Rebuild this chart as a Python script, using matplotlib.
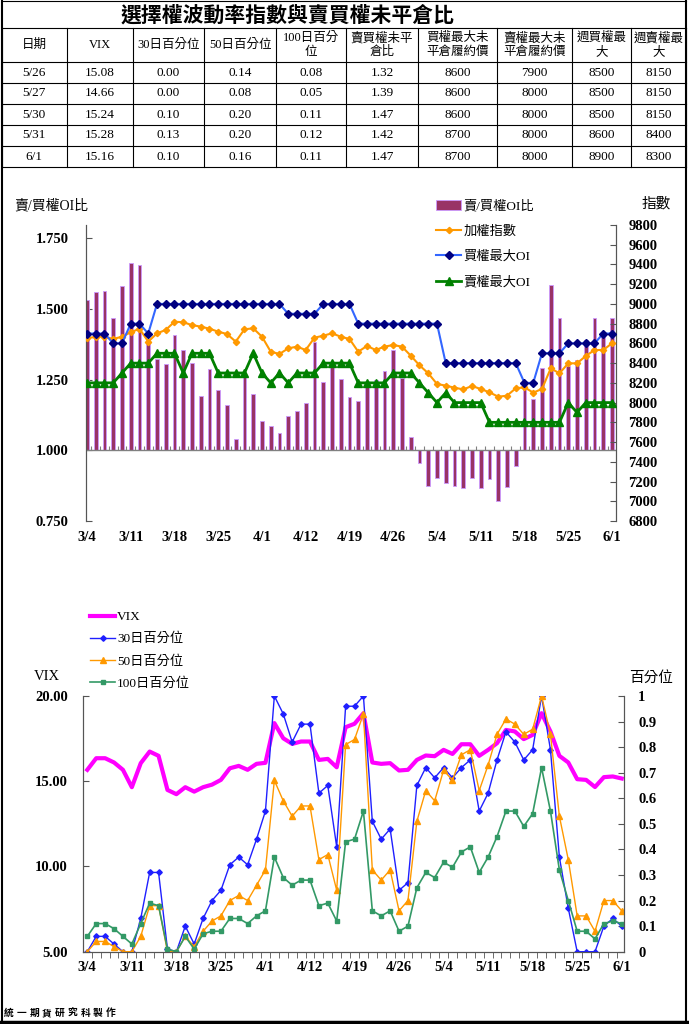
import numpy as np
import matplotlib.pyplot as plt
from matplotlib.ticker import FixedLocator, FuncFormatter

# ---- data ----
dates = ['3/4', '3/7', '3/8', '3/9', '3/10', '3/11', '3/14', '3/15', '3/16', '3/17',
         '3/18', '3/21', '3/22', '3/23', '3/24', '3/25', '3/28', '3/29', '3/30', '3/31',
         '4/1', '4/6', '4/7', '4/8', '4/11', '4/12', '4/13', '4/14', '4/15', '4/18',
         '4/19', '4/20', '4/21', '4/22', '4/25', '4/26', '4/27', '4/28', '4/29', '5/3',
         '5/4', '5/5', '5/6', '5/9', '5/10', '5/11', '5/12', '5/13', '5/16', '5/17',
         '5/18', '5/19', '5/20', '5/23', '5/24', '5/25', '5/26', '5/27', '5/30', '5/31', '6/1']

oi_ratio = [1.533, 1.560, 1.564, 1.467, 1.581, 1.663, 1.657, 1.380, 1.323, 1.307,
            1.409, 1.356, 1.311, 1.191, 1.289, 1.213, 1.160, 1.040, 1.268, 1.200,
            1.104, 1.085, 1.060, 1.123, 1.139, 1.169, 1.383, 1.243, 1.303, 1.252,
            1.188, 1.175, 1.236, 1.250, 1.282, 1.354, 1.256, 1.047, 0.957, 0.873,
            0.902, 0.885, 0.873, 0.867, 0.902, 0.867, 0.900, 0.821, 0.869, 0.945,
            1.240, 1.182, 1.291, 1.585, 1.467, 1.297, 1.32, 1.39, 1.47, 1.42, 1.47]

taiex = [8651, 8668, 8668, 8645, 8668, 8712, 8749, 8618, 8702, 8736,
         8820, 8814, 8786, 8770, 8749, 8719, 8695, 8618, 8743, 8753,
         8668, 8516, 8493, 8550, 8567, 8533, 8658, 8678, 8702, 8668,
         8645, 8516, 8574, 8533, 8567, 8584, 8567, 8476, 8378, 8297,
         8189, 8172, 8151, 8134, 8168, 8138, 8104, 8060, 8070, 8145,
         8155, 8101, 8138, 8347, 8297, 8398, 8398, 8472, 8533, 8533, 8601]

call_max = [8700, 8700, 8700, 8600, 8600, 8800, 8800, 8700, 9000, 9000,
            9000, 9000, 9000, 9000, 9000, 9000, 9000, 9000, 9000, 9000,
            9000, 9000, 9000, 8900, 8900, 8900, 8900, 9000, 9000, 9000,
            9000, 8800, 8800, 8800, 8800, 8800, 8800, 8800, 8800, 8800,
            8800, 8400, 8400, 8400, 8400, 8400, 8400, 8400, 8400, 8400,
            8200, 8200, 8500, 8500, 8500, 8600, 8600, 8600, 8600, 8700, 8700]

put_max = [8200, 8200, 8200, 8200, 8300, 8400, 8400, 8400, 8500, 8500,
           8500, 8300, 8500, 8500, 8500, 8300, 8300, 8300, 8300, 8500,
           8300, 8200, 8300, 8200, 8300, 8300, 8300, 8400, 8400, 8400,
           8400, 8200, 8200, 8200, 8200, 8300, 8300, 8300, 8200, 8100,
           8000, 8100, 8000, 8000, 8000, 8000, 7800, 7800, 7800, 7800,
           7800, 7800, 7800, 7800, 7800, 8000, 7900, 8000, 8000, 8000, 8000]

vix = [15.67, 16.35, 16.35, 16.10, 15.67, 14.65, 16.06, 16.74, 16.49, 14.49,
       14.24, 14.65, 14.39, 14.65, 14.80, 15.08, 15.76, 15.90, 15.67, 16.02,
       16.08, 18.41, 17.52, 17.19, 17.33, 17.33, 16.25, 16.31, 15.82, 18.17,
       18.37, 18.99, 16.10, 16.02, 16.06, 15.63, 15.67, 16.25, 16.51, 16.47,
       16.84, 16.60, 17.17, 17.17, 16.49, 16.84, 17.23, 18.01, 17.92, 17.47,
       17.72, 18.99, 17.92, 16.49, 16.10, 15.12, 15.08, 14.66, 15.24, 15.28, 15.16]

pct30 = [0.00, 0.06, 0.06, 0.03, 0.00, 0.00, 0.13, 0.31, 0.31, 0.01,
         0.00, 0.10, 0.03, 0.13, 0.20, 0.24, 0.34, 0.37, 0.34, 0.44,
         0.55, 1.00, 0.93, 0.82, 0.89, 0.89, 0.62, 0.65, 0.41, 0.96,
         0.96, 1.00, 0.51, 0.44, 0.48, 0.24, 0.27, 0.65, 0.72, 0.68,
         0.72, 0.68, 0.72, 0.75, 0.55, 0.62, 0.75, 0.86, 0.82, 0.75,
         0.79, 1.00, 0.79, 0.37, 0.17, 0.00, 0.00, 0.00, 0.10, 0.13, 0.10]

pct50 = [0.00, 0.04, 0.04, 0.02, 0.00, 0.00, 0.06, 0.18, 0.18, 0.00,
         0.00, 0.06, 0.02, 0.08, 0.12, 0.14, 0.20, 0.22, 0.20, 0.26,
         0.32, 0.67, 0.59, 0.53, 0.57, 0.57, 0.36, 0.38, 0.24, 0.81,
         0.83, 0.93, 0.32, 0.28, 0.32, 0.16, 0.20, 0.51, 0.63, 0.59,
         0.71, 0.67, 0.77, 0.79, 0.63, 0.73, 0.85, 0.91, 0.89, 0.85,
         0.87, 1.00, 0.85, 0.53, 0.36, 0.14, 0.14, 0.08, 0.20, 0.20, 0.16]

pct100 = [0.06, 0.11, 0.11, 0.09, 0.06, 0.03, 0.11, 0.19, 0.18, 0.01,
          0.00, 0.06, 0.01, 0.07, 0.08, 0.08, 0.13, 0.13, 0.11, 0.14,
          0.16, 0.37, 0.29, 0.26, 0.28, 0.28, 0.18, 0.19, 0.12, 0.43,
          0.44, 0.55, 0.16, 0.14, 0.16, 0.08, 0.10, 0.25, 0.31, 0.29,
          0.35, 0.33, 0.39, 0.41, 0.31, 0.37, 0.45, 0.55, 0.55, 0.49,
          0.54, 0.72, 0.55, 0.32, 0.20, 0.08, 0.08, 0.05, 0.11, 0.12, 0.11]

# weekly option max OI strikes (table only)
wk_call_max = [8500, 8500, 8500, 8600, 8900]
wk_put_max = [8150, 8150, 8150, 8400, 8300]

title = '選擇權波動率指數與賣買權未平倉比'
headers = ['日期', 'VIX', '30日百分位', '50日百分位', '100日百分\n位', '賣買權未平\n倉比',
           '買權最大未\n平倉履約價', '賣權最大未\n平倉履約價', '週買權最\n大', '週賣權最\n大']

W, H = 689, 1024
FONT = ['Liberation Serif', 'Noto Sans CJK TC']
CJK = ['Noto Sans CJK TC', 'Liberation Serif']
plt.rcParams['font.family'] = FONT
SPINE = '#555555'


def px_rect(x0, y0, x1, y1):
    return [x0 / W, 1 - y1 / H, (x1 - x0) / W, (y1 - y0) / H]


def bold_ticks(ax):
    for lbl in ax.get_xticklabels() + ax.get_yticklabels():
        lbl.set_fontweight('bold')


fig = plt.figure(figsize=(W / 100, H / 100), dpi=100)

# background canvas in pixel coordinates: frame, table, loose texts
bg = fig.add_axes([0, 0, 1, 1])
bg.set_xlim(0, W)
bg.set_ylim(H, 0)
bg.axis('off')

bg.plot([1.5, 1.5], [0, 1021], color='black', lw=1.5)
bg.plot([685.5, 685.5], [0, 1021], color='black', lw=1.5)
bg.plot([0, W], [1021.5, 1021.5], color='black', lw=2.5)

col_x = [1.5, 66.8, 133, 204, 276, 346, 418, 497, 572, 631, 685.5]
row_y = [0.5, 28, 62, 83, 104, 125, 146, 167]
for y in row_y:
    bg.plot([col_x[0], col_x[-1]], [y, y], color='black', lw=0.8)
for cx in col_x:
    bg.plot([cx, cx], [row_y[1], row_y[-1]], color='black', lw=0.8)

bg.text(288, 15, title, ha='center', va='center', fontsize=15,
        fontweight='bold', family=CJK)

centers = [(col_x[k] + col_x[k + 1]) / 2 for k in range(len(col_x) - 1)]
for k, h in enumerate(headers):
    bg.text(centers[k], (row_y[1] + row_y[2]) / 2, h, ha='center', va='center',
            fontsize=9, linespacing=1.2)

n = len(dates)
rows = []
for j in range(n - 5, n):
    k = j - (n - 5)
    rows.append([dates[j], f'{vix[j]:.2f}', f'{pct30[j]:.2f}', f'{pct50[j]:.2f}',
                 f'{pct100[j]:.2f}', f'{oi_ratio[j]:.2f}', str(call_max[j]),
                 str(put_max[j]), str(wk_call_max[k]), str(wk_put_max[k])])
for r, row in enumerate(rows):
    yc = (row_y[2 + r] + row_y[3 + r]) / 2
    for k, val in enumerate(row):
        bg.text(centers[k], yc, val, ha='center', va='center', fontsize=9.5)

# axis titles
bg.text(51, 206, '賣/買權OI比', ha='center', va='center', fontsize=10)
bg.text(656, 204, '指數', ha='center', va='center', fontsize=10.5)
bg.text(47, 676, 'VIX', ha='center', va='center', fontsize=10.5)
bg.text(651, 678, '百分位', ha='center', va='center', fontsize=10.5)

# footer
for k, ch in enumerate('統一期貨研究科製作'):
    bg.text(9 + k * 12.7, 1013, ch, ha='center', va='center', fontsize=7,
            fontweight='bold', family=CJK)

x = np.arange(n)

# ---------------- top chart: OI ratio + index ----------------
ax1 = fig.add_axes(px_rect(85.5, 225, 616, 521))
ax1.set_facecolor('none')
bars = ax1.bar(x, np.array(oi_ratio) - 1.0, bottom=1.0, width=0.45, color='#993366',
               edgecolor='#CC99FF', linewidth=0.6, label='賣/買權OI比', zorder=2)
ax1.axhline(1.0, color='#808080', lw=1, zorder=3)
ax1.vlines(x[:-1] + 0.5, 1.0, 1.014, color='#808080', lw=0.8, zorder=3)
ax1.set_xlim(-0.17, 60.46)
ax1.set_ylim(0.75, 1.7977)
ax1.set_yticks([0.75, 1.0, 1.25, 1.5, 1.75])
ax1.yaxis.set_major_formatter(FuncFormatter(lambda v, p: f'{v:.3f}'))
ax1.set_xticks(x[::5])
ax1.set_xticklabels(dates[::5])
ax1.tick_params(axis='y', direction='in', length=4, pad=12, labelsize=10.5, color=SPINE)
ax1.tick_params(axis='x', length=0, pad=7, labelsize=10.5)
for s in ['top', 'bottom']:
    ax1.spines[s].set_visible(False)
for s in ['left', 'right']:
    ax1.spines[s].set_color(SPINE)

ax2 = ax1.twinx()
l_idx, = ax2.plot(x, taiex, color='#FF9900', lw=1.5, marker='D', ms=3.2,
                  label='加權指數', zorder=3)
l_call, = ax2.plot(x, call_max, color='#3366FF', lw=1.5, marker='D', ms=4.3,
                   mfc='#000080', mec='#000080', label='買權最大OI', zorder=4)
l_put, = ax2.plot(x, put_max, color='#008000', lw=2, marker='^', ms=5.8,
                  label='賣權最大OI', zorder=4)
ax2.set_ylim(6800, 9800)
ax2.set_yticks(range(6800, 9801, 200))
ax2.tick_params(axis='y', direction='in', length=4, pad=9, labelsize=10.5, color=SPINE)
for s in ['top', 'bottom']:
    ax2.spines[s].set_visible(False)
for s in ['left', 'right']:
    ax2.spines[s].set_color(SPINE)
bold_ticks(ax1)
bold_ticks(ax2)

ax2.legend([bars, l_idx, l_call, l_put], ['賣/買權OI比', '加權指數', '買權最大OI', '賣權最大OI'],
           loc='upper left', bbox_to_anchor=(436 / W, 1 - 200 / H),
           bbox_transform=fig.transFigure, frameon=False, borderpad=0,
           borderaxespad=0, handlelength=1.9, handletextpad=0.2,
           labelspacing=0.98, fontsize=9.5)

# ---------------- bottom chart: VIX + percentiles ----------------
ax3 = fig.add_axes(px_rect(83.3, 696, 624.3, 951.7))
ax3.set_facecolor('none')
l_vix, = ax3.plot(x, vix, color='#FF00FF', lw=3, label='VIX', zorder=2)
ax3.set_xlim(-0.45, 60.29)
ax3.set_ylim(5, 20)
ax3.set_yticks([5, 10, 15, 20])
ax3.yaxis.set_major_formatter(FuncFormatter(lambda v, p: f'{v:.2f}'))
ax3.set_xticks(x[::5])
ax3.set_xticklabels(dates[::5])
ax3.xaxis.set_minor_locator(FixedLocator(x - 0.5))
ax3.tick_params(axis='x', which='major', length=0, pad=7, labelsize=10.5)
ax3.tick_params(axis='x', which='minor', direction='out', length=4, color=SPINE)
ax3.tick_params(axis='y', direction='in', length=4, pad=11, labelsize=10.5, color=SPINE)
ax3.spines['top'].set_visible(False)
for s in ['left', 'right', 'bottom']:
    ax3.spines[s].set_color(SPINE)

ax4 = ax3.twinx()
l_30, = ax4.plot(x, pct30, color='#1F1FFF', lw=1, marker='D', ms=2.8, label='30日百分位')
l_50, = ax4.plot(x, pct50, color='#FF9900', lw=1, marker='^', ms=3.8, label='50日百分位')
l_100, = ax4.plot(x, pct100, color='#339966', lw=1.2, marker='s', ms=3.5, label='100日百分位')
ax4.set_ylim(0, 1)
ax4.set_yticks(np.round(np.arange(0, 1.01, 0.1), 1))
ax4.yaxis.set_major_formatter(FuncFormatter(lambda v, p: f'{round(v, 1):g}'))
ax4.tick_params(axis='y', direction='in', length=4, pad=10, labelsize=10.5, color=SPINE)
ax4.spines['top'].set_visible(False)
for s in ['left', 'right', 'bottom']:
    ax4.spines[s].set_color(SPINE)
bold_ticks(ax3)
bold_ticks(ax4)

ax4.legend([l_vix, l_30, l_50, l_100], ['VIX', '30日百分位', '50日百分位', '100日百分位'],
           loc='upper left', bbox_to_anchor=(90 / W, 1 - 611 / H),
           bbox_transform=fig.transFigure, frameon=False, borderpad=0,
           borderaxespad=0, handlelength=1.9, handletextpad=0.15,
           labelspacing=0.72, fontsize=9.5)

fig.savefig('out.png', dpi=100)
